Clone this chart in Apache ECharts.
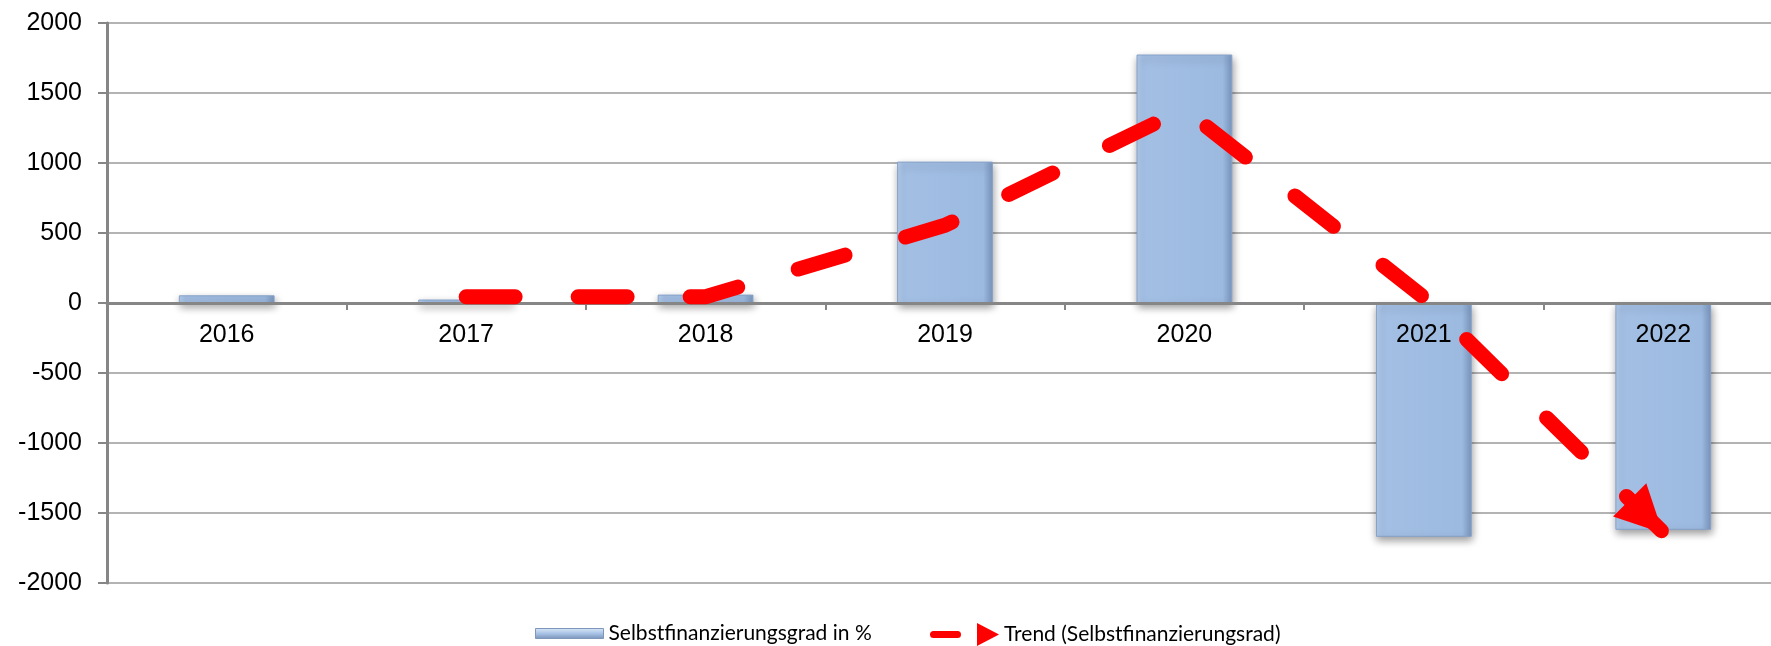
<!DOCTYPE html>
<html lang="de">
<head>
    <meta charset="UTF-8">
    <title>Selbstfinanzierungsgrad</title>
    <script src="https://cdn.jsdelivr.net/npm/echarts@6/dist/echarts.min.js"></script>
    <style>
        html, body { margin: 0; padding: 0; background: #fff; }
    </style>
</head>
<body>
<div id="chartmain" style="width: 1771px; height: 646px;"></div>
<script type="text/javascript">
    // Daten
    var jahre = ['2016', '2017', '2018', '2019', '2020', '2021', '2022'];
    var grad = [55, 25, 60, 1010, 1775, -1670, -1620];
    var trend = [null, 45, 45, 555, 1385, 40, -1640];
    var yMin = -2000, yMax = 2000, yStep = 500;

    var nameBar = 'Selbstfinanzierungsgrad in %';
    var nameTrend = 'Trend (Selbstfinanzierungsrad)';

    // letzter Trendpunkt bekommt die Pfeilspitze
    var trendDaten = [];
    for (var i = 0; i < trend.length; i++) {
        if (i == trend.length - 1) {
            trendDaten.push({
                value: trend[i],
                symbol: 'triangle',
                symbolSize: [47, 47],
                symbolRotate: -135,
                symbolOffset: [-17, -16]
            });
        } else {
            trendDaten.push({value: trend[i], symbol: 'none'});
        }
    }

    var balken = new echarts.graphic.LinearGradient(0, 0, 1, 0, [
        {offset: 0, color: '#b4cdec'},
        {offset: 0.07, color: '#a3bfe4'},
        {offset: 0.9, color: '#9cb9df'},
        {offset: 1, color: '#7b97bf'}
    ]);

    // Nulllinie liegt mitten im Plot
    var plotHoehe = 560;
    var nullVersatz = -plotHoehe * (0 - yMin) / (yMax - yMin);

    var option = {
        animation: false,
        grid: {left: 107, top: 23, width: 1676, height: plotHoehe, outerBoundsMode: 'none'},
        legend: [{
            left: 530, top: 618,
            itemWidth: 68, itemHeight: 10,
            textStyle: {fontFamily: 'Lato', fontSize: 21, color: '#000'},
            data: [{
                name: nameBar, icon: 'rect',
                itemStyle: {
                    color: new echarts.graphic.LinearGradient(0, 0, 0, 1, [
                        {offset: 0, color: '#dbe8f7'},
                        {offset: 0.5, color: '#a8c3e6'},
                        {offset: 1, color: '#7891b8'}
                    ]),
                    borderColor: '#7f97bb', borderWidth: 1
                }
            }]
        }, {
            left: 925, top: 618,
            itemWidth: 69, itemHeight: 23,
            textStyle: {fontFamily: 'Lato', fontSize: 21, color: '#000'},
            data: [{
                name: nameTrend,
                icon: 'path://M3.5,8 L27.5,8 A3.5,3.5 0 0 1 27.5,15 L3.5,15 A3.5,3.5 0 0 1 3.5,8 Z M47,0 L69,11.5 L47,23 Z',
                itemStyle: {color: '#ff0000'}
            }]
        }],
        xAxis: {
            type: 'category',
            data: jahre,
            z: 10,
            position: 'bottom',
            offset: nullVersatz,
            axisLine: {onZero: false, lineStyle: {color: '#868686', width: 3}},
            axisTick: {show: true, length: 7, lineStyle: {color: '#868686', width: 2}},
            axisLabel: {
                margin: 20,
                fontFamily: 'Liberation Sans', fontSize: 25, color: '#000'
            },
            splitLine: {show: false}
        },
        yAxis: {
            type: 'value',
            min: yMin, max: yMax, interval: yStep,
            axisLine: {show: true, lineStyle: {color: '#868686', width: 3}},
            axisTick: {show: true, length: 9, lineStyle: {color: '#868686', width: 2}},
            axisLabel: {
                margin: 25,
                fontFamily: 'Liberation Sans', fontSize: 25, color: '#000',
                formatter: function (v) { return String(v); }
            },
            splitLine: {show: true, lineStyle: {color: '#b3b3b3', width: 2}}
        },
        series: [{
            name: nameBar,
            type: 'bar',
            data: grad,
            barWidth: '40%',
            z: 2,
            itemStyle: {
                color: balken,
                borderColor: '#86a2c9',
                borderWidth: 1,
                shadowColor: 'rgba(0,0,0,0.4)',
                shadowBlur: 8,
                shadowOffsetX: 1,
                shadowOffsetY: 4
            },
            emphasis: {disabled: true}
        }, {
            name: nameTrend,
            type: 'line',
            data: trendDaten,
            z: 20,
            showSymbol: true,
            symbol: 'none',
            itemStyle: {color: '#ff0000'},
            lineStyle: {color: '#ff0000', width: 15, type: [49, 63], cap: 'round'},
            emphasis: {disabled: true}
        }]
    };

    var myChart = echarts.init(document.getElementById('chartmain'));
    myChart.setOption(option);
</script>
</body>
</html>
